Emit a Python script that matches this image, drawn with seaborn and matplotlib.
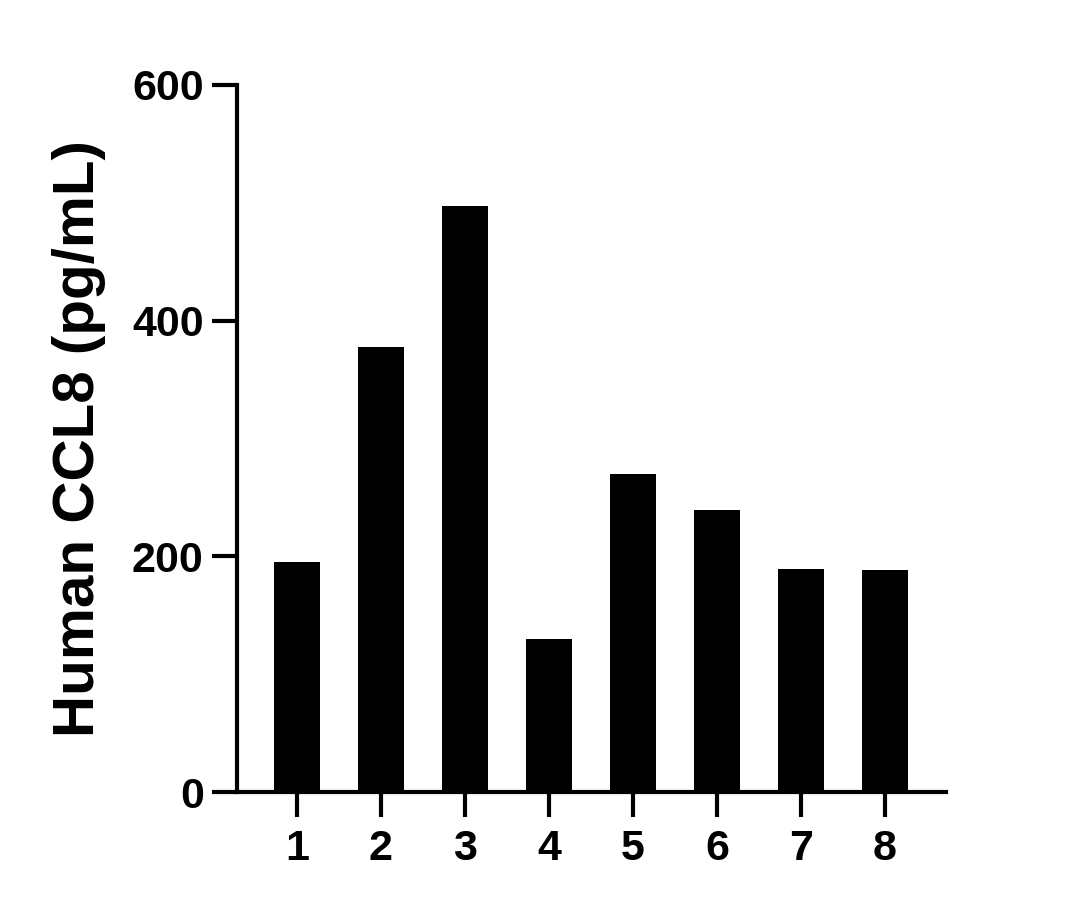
import matplotlib
matplotlib.use("Agg")
import matplotlib.pyplot as plt
import seaborn as sns
import pandas as pd

categories = ["1", "2", "3", "4", "5", "6", "7", "8"]
values = [195, 378, 497, 130, 270, 239, 189, 188]
y_ticks = [0, 200, 400, 600]
y_label = "Human CCL8 (pg/mL)"

sns.set_theme(style="ticks")
plt.rcParams['font.family'] = ['Liberation Sans', 'DejaVu Sans']
plt.rcParams['font.weight'] = 'bold'

df = pd.DataFrame({"cat": categories, "val": values})

fig = plt.figure(figsize=(10.79, 9.10), dpi=100)
ax = fig.add_axes([237/1079, 1 - 792/910, (946 - 237)/1079, (792 - 85)/910])

sns.barplot(data=df, x="cat", y="val", color="black", width=0.55,
            saturation=1, ax=ax, edgecolor="black", linewidth=0)

ax.set_xlim(-0.714, 7.726)
ax.set_ylim(0, 600)
ax.set_yticks(y_ticks)
ax.set_yticklabels([str(t) for t in y_ticks])
ax.set_xlabel("")
ax.set_ylabel(y_label, fontsize=42, fontweight='bold', color='black')
ax.yaxis.set_label_coords(-0.185, 0.5)

for s in ["top", "right"]:
    ax.spines[s].set_visible(False)
for s in ["left", "bottom"]:
    ax.spines[s].set_linewidth(3)
    ax.spines[s].set_color("black")

ax.tick_params(axis='both', which='major', length=18, width=3, color='black',
               labelsize=31, labelcolor='black')
ax.tick_params(axis='y', pad=6)
ax.tick_params(axis='x', pad=9)
for lbl in ax.get_xticklabels() + ax.get_yticklabels():
    lbl.set_fontweight('bold')

fig.savefig("out.png", dpi=100, facecolor="white")
